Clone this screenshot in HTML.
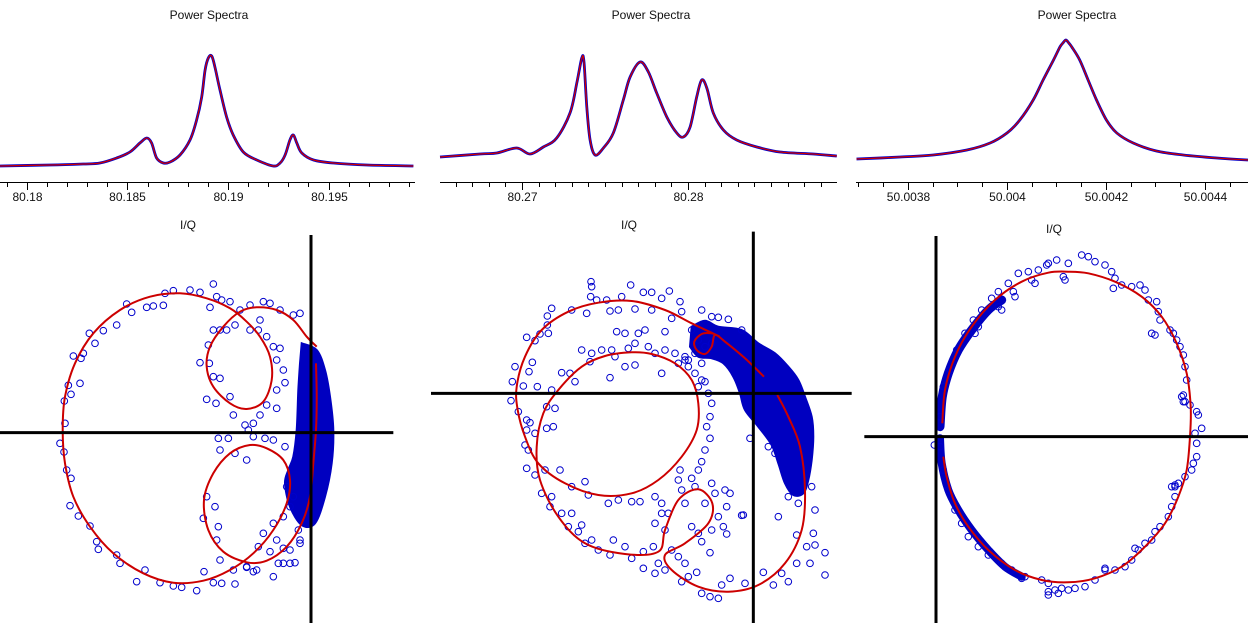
<!DOCTYPE html>
<html><head><meta charset="utf-8">
<style>
html,body{margin:0;padding:0;background:#fff;}
svg{display:block;font-family:"Liberation Sans",sans-serif;}
</style></head>
<body>
<svg id="chart" width="1248" height="623" viewBox="0 0 1248 623"></svg>
<script>
// ---------- Power spectra data ----------
const spec1Freq=[80.17866,80.18114,80.18280,80.18363,80.18446,80.18512,80.18562,80.18596,80.18620,80.18645,80.18678,80.18712,80.18761,80.18811,80.18844,80.18869,80.18886,80.18902,80.18919,80.18935,80.18960,80.18993,80.19026,80.19076,80.19143,80.19225,80.19259,80.19284,80.19308,80.19325,80.19342,80.19367,80.19425,80.19524,80.19690,80.19922];
const spec1Power=[2,3,4,5,10,16,25,30,25,10,5,6,13,28,48,71,98,110,112,101,78,51,33,16,8,2,5,13,28,33,25,15,8,5,3,2];
const spec2Freq=[80.26506,80.26747,80.26848,80.26968,80.27048,80.27128,80.27209,80.27289,80.27330,80.27360,80.27373,80.27390,80.27410,80.27440,80.27490,80.27550,80.27610,80.27651,80.27711,80.27761,80.27811,80.27872,80.27932,80.27972,80.28012,80.28052,80.28082,80.28113,80.28152,80.28213,80.28293,80.28414,80.28554,80.28755,80.28896];
const spec2Power=[3,6,7,12,6,13,22,47,77,102,98,53,20,5,12,27,60,83,98,88,67,43,27,23,33,63,80,72,47,30,20,13,8,6,4];
const spec3Freq=[50.003696,50.003784,50.003851,50.003919,50.003966,50.004,50.004026,50.004053,50.004073,50.004094,50.004107,50.004113,50.004119,50.004125,50.004131,50.004147,50.004164,50.004181,50.004201,50.004222,50.004255,50.004302,50.004356,50.004424,50.004487];
const spec3Power=[3,5,7,12,19,29,42,62,82,102,115,119,122,119,115,102,82,62,42,29,19,11,7,4,2];
const spec1Ticks=[80.18,80.185,80.19,80.195];
const spec1TickLabels=["80.18","80.185","80.19","80.195"];
const spec2Ticks=[80.27,80.28];
const spec2TickLabels=["80.27","80.28"];
const spec3Ticks=[50.0038,50.004,50.0042,50.0044];
const spec3TickLabels=["50.0038","50.004","50.0042","50.0044"];

// ---------- I/Q data (arbitrary units) ----------
const iq1FitI=[950,920,880,830,770,720,670,630,620,640,690,740,790,815,810,780,740,690,620,540,450,360,280,225,195,188,195,220,270,340,430,520,610,690,760,820,860,870,850,800,750,690,640,612,625,670,740,800,860,905,930,940,948,950,948];
const iq1FitQ=[350,320,270,240,232,245,290,350,410,470,520,537,515,450,380,320,275,235,205,190,200,240,310,400,500,600,700,800,890,970,1030,1058,1052,1020,970,900,820,750,690,655,645,670,730,810,900,965,997,992,950,880,800,700,600,500,400];
const iq1ScatI=[640,570,600,520,495,380,440,460,490,395,350,310,268,285,250,220,243,205,240,213,193,195,180,192,200,213,210,235,270,290,295,350,360,410,435,480,520,545,590,612,640,665,705,660,700,740,770,820,835,870,885,900,630,650,665,690,720,750,790,810,840,880,900,640,660,680,705,750,775,780,800,820,840,830,850,855,830,830,800,780,760,735,745,700,648,620,600,628,640,660,690,625,655,685,740,760,795,820,855,660,705,620,645,610,655,650,790,820,830,850,810,850,870,775,740,760,860,880,870,850,895,900];
const iq1ScatQ=[162,180,187,182,190,222,232,228,226,247,285,302,310,340,370,378,385,466,460,493,513,580,640,666,720,745,827,858,888,935,958,975,1000,1055,1020,1058,1068,1072,1082,1025,1058,1060,1062,990,1020,1010,1020,1040,1000,1000,998,940,232,200,210,215,240,225,215,220,240,255,250,300,300,300,285,300,300,270,320,350,355,390,420,458,480,535,525,555,580,585,600,555,520,508,398,400,440,445,500,345,625,625,690,620,625,630,650,660,670,800,830,865,890,930,910,880,930,955,965,1000,960,950,1012,1025,770,800,830,860,900,930];
const iq1DenseI=[905,950,975,990,1000,995,975,945,905,870,855,865,880,890,895,900];
const iq1DenseQ=[340,360,420,500,600,700,800,880,885,830,760,720,680,600,480,400];

const iq2FitI=[1017,960,900,870,860,840,815,808,830,860,880,800,720,620,520,430,350,300,275,278,300,340,420,520,620,700,770,815,820,800,750,680,620,540,470,400,355,335,345,400,480,600,700,720,760,820,862,850,780,720,740,820,910,1000,1080,1130,1140,1125,1090,1057];
const iq2FitQ=[440,385,335,315,350,372,360,335,312,310,318,280,240,213,218,245,300,380,470,540,620,700,760,795,790,750,680,600,520,450,400,372,367,378,410,480,550,650,750,860,940,972,965,900,810,778,820,880,940,975,1020,1070,1085,1065,1000,900,780,650,560,495];
const iq2ScatI=[498,500,497,515,545,590,617,655,680,710,733,765,740,770,830,860,880,910,950,440,485,555,580,630,680,380,367,367,370,345,305,330,322,312,270,262,295,337,258,280,305,305,315,330,300,310,305,330,350,380,375,410,440,430,460,470,480,500,520,555,565,600,620,655,685,700,655,690,720,770,790,815,830,855,880,890,915,960,1015,1045,1090,1070,1115,1155,1145,1170,1200,1200,1165,1115,1170,1160,1120,1060,1090,1030,1050,975,955,435,410,450,380,365,390,365,385,405,360,470,500,495,530,560,570,610,630,670,690,720,750,780,790,810,840,820,850,860,855,855,845,840,830,820,800,765,760,690,710,730,770,780,810,840,860,870,900,915,905,950,880,895,905,860,800,830,855,820,690,720,740,760,780,710,550,580,620,645,490,440,480,555,600,630,710,760,830,720,660,640,600,575,800,820,840,810,790,860,780,830];
const iq2ScatQ=[155,170,200,210,210,200,165,187,187,205,183,215,265,245,240,260,262,268,300,240,250,243,240,237,240,235,258,285,310,312,322,332,397,425,410,455,468,470,512,545,570,600,578,610,645,660,715,735,790,800,830,850,850,890,905,885,940,930,960,975,930,950,985,965,950,1000,1015,1030,1020,1055,1040,1027,1090,1100,1105,1065,1045,1060,1027,1065,1055,1030,1000,1000,950,945,968,1035,910,915,840,770,820,860,800,650,670,625,855,430,428,455,480,530,535,595,590,720,720,360,370,395,360,360,380,355,340,350,370,360,370,390,410,430,455,470,490,520,560,625,590,660,695,720,745,720,750,800,820,850,780,820,770,820,760,790,780,790,830,856,860,890,912,900,890,935,968,910,880,900,960,980,1000,850,820,810,815,815,795,770,755,443,410,405,430,400,450,305,300,310,310,305,300,330,350,370,390,340,380,400];
const iq2DenseI=[800,840,880,950,1000,1050,1090,1120,1140,1160,1165,1160,1150,1135,1105,1080,1060,1040,1000,960,945,925,895,860,820,795];
const iq2DenseQ=[290,272,290,300,340,370,410,450,500,560,620,690,750,790,795,760,700,645,590,540,490,440,400,385,380,350];

const iq3FitI=[262,270,300,350,420,500,580,640,700,780,860,920,965,995,1007,1005,995,970,930,870,800,720,640,560,480,400,340,300,275,265];
const iq3FitQ=[580,480,380,290,210,155,128,125,130,155,200,260,340,430,530,620,720,800,880,950,1010,1045,1057,1050,1020,960,890,820,740,680];
const iq3ScatI=[580,605,640,680,700,720,750,770,780,800,830,855,870,880,905,910,915,945,955,965,975,985,990,995,985,985,1005,1025,1030,1040,1020,1025,1025,1015,1010,990,970,960,960,950,940,915,900,890,870,850,830,810,780,750,720,690,660,640,620,600,580,580,560,510,470,440,400,370,340,320,300,280,265,255,238,255,265,285,305,330,355,380,410,430,460,490,520,550,575,475,480,430,440,370,360,890,900,775,625,630,530,540,980,990,960,950,840,750,580,610,450,500];
const iq3ScatQ=[100,90,100,75,80,95,105,125,145,165,170,165,180,210,215,245,270,300,310,330,350,375,410,450,495,515,525,545,555,595,610,640,680,700,720,740,760,770,800,830,860,890,905,930,940,960,990,1010,1020,1020,1050,1070,1075,1080,1075,1080,1085,1060,1050,1040,1020,1000,975,950,920,880,840,780,720,650,645,560,470,420,360,310,270,240,205,185,160,130,125,120,105,185,200,230,240,290,310,310,315,175,140,150,150,160,500,515,765,770,955,1015,1095,1090,1010,1045];
const iq3BandUpI=[255,262,280,310,350,400,440];
const iq3BandUpQ=[590,500,430,360,300,240,210];
const iq3BandLoI=[255,260,280,310,350,400,450,500];
const iq3BandLoQ=[625,700,780,840,900,960,1010,1040];

// ---------- rendering ----------
const NS="http://www.w3.org/2000/svg";
const svg=document.getElementById('chart');
function mk(tag,attrs,parent){const e=document.createElementNS(NS,tag);for(const k in attrs)e.setAttribute(k,attrs[k]);(parent||svg).appendChild(e);return e;}
function linScale(d0,d1,r0,r1){return v=>r0+(v-d0)*(r1-r0)/(d1-d0);}

function smoothPath(pts){
  let d="M"+pts[0][0].toFixed(1)+","+pts[0][1].toFixed(1);
  for(let i=0;i<pts.length-1;i++){
    const p0=pts[Math.max(0,i-1)],p1=pts[i],p2=pts[i+1],p3=pts[Math.min(pts.length-1,i+2)];
    const c1=[p1[0]+(p2[0]-p0[0])/6,p1[1]+(p2[1]-p0[1])/6];
    const c2=[p2[0]-(p3[0]-p1[0])/6,p2[1]-(p3[1]-p1[1])/6];
    d+="C"+c1[0].toFixed(1)+","+c1[1].toFixed(1)+" "+c2[0].toFixed(1)+","+c2[1].toFixed(1)+" "+p2[0].toFixed(1)+","+p2[1].toFixed(1);
  }
  return d;
}

function spectrum(idx,freq,power,fd0,fd1,x0,x1,base,majors,labels,minorStep,titleX){
  const g=mk('g',{});
  
  
  const xs=linScale(fd0,fd1,x0,x1);
  const ys=p=>base-p;
  const t=mk('text',{x:titleX,y:19,'text-anchor':'middle','font-size':12,fill:'#111'},g);
  t.textContent='Power Spectra';
  
  
  const pts=freq.map((f,i)=>[xs(f),ys(power[i])]);
  const blue=mk('path',{d:smoothPath(pts),fill:'none',stroke:'#0000cc','stroke-width':2.8,'stroke-linejoin':'round'},g);
  
  
  const red=mk('path',{d:smoothPath(pts),fill:'none',stroke:'#cc0000','stroke-width':1.3},g);
  
  
  const ax=mk('line',{x1:x0,x2:x1,y1:182.5,y2:182.5,stroke:'#000','stroke-width':1},g);
  
  
  const start=Math.ceil(fd0/minorStep), end=Math.floor(fd1/minorStep);
  for(let k=start;k<=end;k++){
    const x=Math.round(xs(k*minorStep))+0.5;
    const tk=mk('line',{x1:x,x2:x,y1:182,y2:187,stroke:'#000','stroke-width':1},g);
    
    
  }
  majors.forEach((m,i)=>{
    const x=Math.round(xs(m))+0.5;
    const tk=mk('line',{x1:x,x2:x,y1:182,y2:190,stroke:'#000','stroke-width':1},g);
    
    
    const lb=mk('text',{x:x,y:201,'text-anchor':'middle','font-size':12,fill:'#111'},g);
    lb.textContent=labels[i];
    
    
  });
}

spectrum(1,spec1Freq,spec1Power,80.17866,80.19930,0,415,168,spec1Ticks,spec1TickLabels,0.001,209);
spectrum(2,spec2Freq,spec2Power,80.26506,80.28897,440,837,160,spec2Ticks,spec2TickLabels,0.001,651);
spectrum(3,spec3Freq,spec3Power,50.003695,50.004487,856,1248,162,spec3Ticks,spec3TickLabels,0.00005,1077);

function iqPanel(idx,px,titleX,titleY,origin,vExt,hExt,fitI,fitQ,scI,scQ,denseI,denseQ,bands){
  const g=mk('g',{});
  
  
  const xs=i=>px+i/3;
  const ys=q=>230+q/3;
  const t=mk('text',{x:titleX,y:titleY,'text-anchor':'middle','font-size':12,fill:'#111'},g);
  t.textContent='I/Q';
  
  
  if(denseI){
    const poly=mk('path',{d:smoothPath(denseI.map((v,i)=>[xs(v),ys(denseQ[i])]))+'Z',fill:'#0000c0',stroke:'#0000c0','stroke-width':2},g);
    
    
  }
  if(bands){
    bands.forEach((b,j)=>{
      const pl=mk('path',{d:smoothPath(b[0].map((v,i)=>[xs(v),ys(b[1][i])])),fill:'none',stroke:'#0000c0','stroke-width':b[2],'stroke-linecap':'round'},g);
      
      
    });
  }
  scI.forEach((v,i)=>{
    const c=mk('circle',{cx:xs(v),cy:ys(scQ[i]),r:3.3,fill:'none',stroke:'#0000cc','stroke-width':1},g);
    
    
  });
  const fit=mk('path',{d:smoothPath(fitI.map((v,i)=>[xs(v),ys(fitQ[i])])),fill:'none',stroke:'#cc0000','stroke-width':2},g);
  
  
  const va=mk('line',{x1:xs(origin[0]),x2:xs(origin[0]),y1:ys(vExt[0]),y2:ys(vExt[1]),stroke:'#000','stroke-width':3},g);
  
  
  const ha=mk('line',{x1:xs(hExt[0]),x2:xs(hExt[1]),y1:ys(origin[1]),y2:ys(origin[1]),stroke:'#000','stroke-width':3},g);
  
  
}

iqPanel(1,0,188,229,[933,608],[15,1180],[0,1180],iq1FitI,iq1FitQ,iq1ScatI,iq1ScatQ,iq1DenseI,iq1DenseQ,null);
iqPanel(2,425,629,229,[985,490],[5,1180],[18,1280],iq2FitI,iq2FitQ,iq2ScatI,iq2ScatQ,iq2DenseI,iq2DenseQ,null);
iqPanel(3,855,1054,233,[243,620],[18,1180],[28,1180],iq3FitI,iq3FitQ,iq3ScatI,iq3ScatQ,null,null,[[iq3BandUpI,iq3BandUpQ,9],[iq3BandLoI,iq3BandLoQ,8]]);
</script>
</body></html>
